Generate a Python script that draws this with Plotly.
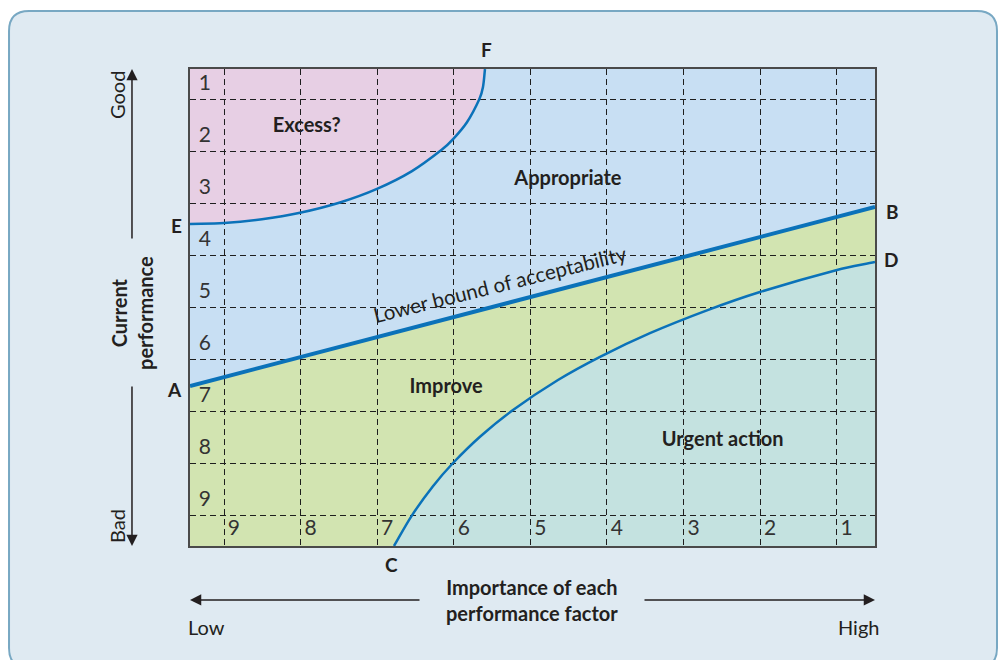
import math
import plotly.graph_objects as go

# ---------------- data (grid units: x = importance gridline index, y = performance gridline index) -------------
importance_grid = [1, 2, 3, 4, 5, 6, 7, 8, 9]
importance_labels = ["9", "8", "7", "6", "5", "4", "3", "2", "1"]
performance_grid = [1, 2, 3, 4, 5, 6, 7, 8, 9]
performance_labels = ["1", "2", "3", "4", "5", "6", "7", "8", "9"]

# Curve E-F (boundary of "Excess?")
ef_x = [0.556, 1.000, 1.496, 1.992, 2.514, 2.997, 3.454, 3.842, 3.994, 4.172, 4.333, 4.381, 4.407]
ef_y = [3.404, 3.385, 3.313, 3.188, 2.990, 2.729, 2.387, 1.977, 1.767, 1.448, 1.006, 0.769, 0.423]

# Lower bound of acceptability A-B
ab_x = [0.556, 9.499]
ab_y = [6.519, 3.077]

# Curve C-D (boundary of "Urgent action")
cd_x = [3.219, 3.454, 3.728, 3.990, 4.342, 4.773, 5.360, 5.909, 6.561, 7.305, 7.997, 9.003, 9.499]
cd_y = [9.596, 9.006, 8.446, 8.000, 7.494, 6.981, 6.404, 5.958, 5.504, 5.065, 4.712, 4.288, 4.135]

region_names = ["<b>Excess?</b>", "<b>Appropriate</b>", "<b>Improve</b>", "<b>Urgent action</b>"]
region_x = [2.08, 5.49, 3.90, 7.51]
region_y = [1.54, 2.56, 6.56, 7.58]

XMIN, XMAX = 0.556, 9.499
YTOP, YBOT = 0.423, 9.596
PX_X, PX_Y = 76.6, 52.0   # pixels per grid unit (for smooth-curve parametrisation)

C_EXCESS = "#e7cfe4"
C_APPROP = "#c8dff3"
C_IMPROVE = "#d2e4b1"
C_URGENT = "#c4e2e0"
C_LINE = "#0b72b9"
C_TEXT = "#231f20"
FONT = "Lato"


def smooth_segments(xs, ys):
    """Chord-length Catmull-Rom through the points, as SVG cubic segments (after the first point)."""
    n = len(xs)
    t = [0.0]
    for i in range(1, n):
        t.append(t[-1] + math.hypot((xs[i] - xs[i - 1]) * PX_X, (ys[i] - ys[i - 1]) * PX_Y))
    mx, my = [], []
    for i in range(n):
        a, b = max(i - 1, 0), min(i + 1, n - 1)
        mx.append((xs[b] - xs[a]) / (t[b] - t[a]))
        my.append((ys[b] - ys[a]) / (t[b] - t[a]))
    segs = []
    for i in range(n - 1):
        h = (t[i + 1] - t[i]) / 3.0
        segs.append("C %.4f,%.4f %.4f,%.4f %.4f,%.4f" % (
            xs[i] + mx[i] * h, ys[i] + my[i] * h,
            xs[i + 1] - mx[i + 1] * h, ys[i + 1] - my[i + 1] * h,
            xs[i + 1], ys[i + 1]))
    return " ".join(segs)


ef_curve = smooth_segments(ef_x, ef_y)
cd_curve = smooth_segments(cd_x, cd_y)
dc_curve = smooth_segments(cd_x[::-1], cd_y[::-1])

p = lambda x, y: "%s,%s" % (x, y)
excess_path = f"M {p(XMIN, YTOP)} L {p(ef_x[0], ef_y[0])} {ef_curve} Z"
approp_path = (f"M {p(ef_x[0], ef_y[0])} {ef_curve} L {p(XMAX, YTOP)} L {p(ab_x[1], ab_y[1])} "
               f"L {p(ab_x[0], ab_y[0])} Z")
improve_path = (f"M {p(ab_x[0], ab_y[0])} L {p(ab_x[1], ab_y[1])} L {p(cd_x[-1], cd_y[-1])} {dc_curve} "
                f"L {p(XMIN, YBOT)} Z")
urgent_path = f"M {p(cd_x[0], cd_y[0])} {cd_curve} L {p(XMAX, YBOT)} Z"

fig = go.Figure()

shapes = []
# background rounded panel (paper coords)
L, R, T, B = -0.2642, 1.1781, 1.1216, -0.2558
rx, ry = 0.0292, 0.0419
panel = (f"M {L+rx},{T} L {R-rx},{T} Q {R},{T} {R},{T-ry} L {R},{B+ry} Q {R},{B} {R-rx},{B} "
         f"L {L+rx},{B} Q {L},{B} {L},{B+ry} L {L},{T-ry} Q {L},{T} {L+rx},{T} Z")
shapes.append(dict(type="path", xref="paper", yref="paper", path=panel, fillcolor="#dfeaf2",
                   line=dict(color="#78a8c3", width=2), layer="below"))
for pth, col in [(excess_path, C_EXCESS), (approp_path, C_APPROP),
                 (improve_path, C_IMPROVE), (urgent_path, C_URGENT)]:
    shapes.append(dict(type="path", xref="x", yref="y", path=pth, fillcolor=col,
                       line=dict(width=0), layer="below"))
# boundary curves
for xs, ys, cur in [(ef_x, ef_y, ef_curve), (cd_x, cd_y, cd_curve)]:
    shapes.append(dict(type="path", xref="x", yref="y", path=f"M {p(xs[0], ys[0])} {cur}",
                       fillcolor="rgba(0,0,0,0)", line=dict(color=C_LINE, width=2.5), layer="above"))

fig.add_trace(go.Scatter(x=ab_x, y=ab_y, mode="lines", line=dict(color=C_LINE, width=4),
                         hoverinfo="skip", showlegend=False))

# number labels
fig.add_trace(go.Scatter(x=[0.75] * len(performance_grid), y=[v - 0.27 for v in performance_grid],
                         mode="text", text=performance_labels,
                         textfont=dict(family=FONT, size=21, color="#333333"),
                         hoverinfo="skip", showlegend=False))
fig.add_trace(go.Scatter(x=[g + 0.05 for g in importance_grid], y=[9.29] * len(importance_grid),
                         mode="text", text=importance_labels, textposition="middle right",
                         textfont=dict(family=FONT, size=21, color="#333333"),
                         hoverinfo="skip", showlegend=False))
# region labels
fig.add_trace(go.Scatter(x=region_x, y=region_y, mode="text", text=region_names,
                         textfont=dict(family=FONT, size=20, color=C_TEXT),
                         hoverinfo="skip", showlegend=False))

ann = []
ann.append(dict(x=4.60, y=4.56, xref="x", yref="y", text="Lower bound of acceptability", textangle=-14,
                showarrow=False, font=dict(family=FONT, size=20.5, color=C_TEXT)))
# point letters
letter_font = dict(family=FONT, size=19, color=C_TEXT)
for txt, x, y, xs, ys in [("A", ab_x[0], ab_y[0], -16, -4), ("B", ab_x[1], ab_y[1], 17, -4),
                          ("C", cd_x[0], cd_y[0], -2, -18), ("D", cd_x[-1], cd_y[-1], 16, 3),
                          ("E", ef_x[0], ef_y[0], -14, -1), ("F", ef_x[-1], ef_y[-1], 2, 20)]:
    ann.append(dict(x=x, y=y, xref="x", yref="y", text="<b>%s</b>" % txt, showarrow=False,
                    xshift=xs, yshift=ys, font=letter_font))

# axis arrows (head in paper coords, tail offset in pixels)
for hx, hy, ax, ay in [(-0.0847, 1.0, 0, 171), (-0.0847, 0.0, 0, -161),
                       (0.0, -0.1132, 231, 0), (1.0, -0.1132, -232, 0)]:
    ann.append(dict(x=hx, y=hy, ax=ax, ay=ay, xref="paper", yref="paper", axref="pixel", ayref="pixel",
                    text="", showarrow=True, arrowhead=2, arrowsize=1.5, arrowwidth=1.5,
                    arrowcolor=C_TEXT, standoff=0))

txt_font = dict(family=FONT, size=20, color=C_TEXT)
for text, x, y, ang in [("Good", -0.1066, 0.9455, -90), ("Bad", -0.1066, 0.0419, -90),
                        ("<b>Current<br>performance</b>", -0.0847, 0.4885, -90),
                        ("<b>Importance of each<br>performance factor</b>", 0.4993, -0.1132, 0),
                        ("Low", 0.0248, -0.1698, 0), ("High", 0.9766, -0.1698, 0)]:
    ann.append(dict(x=x, y=y, xref="paper", yref="paper", text=text, textangle=ang,
                    xanchor="center", yanchor="middle", showarrow=False, font=txt_font))

axis_common = dict(tick0=1, dtick=1, showgrid=True, griddash="6px,4px", gridcolor="#1e1e1e", gridwidth=1,
                   showticklabels=False, ticks="", zeroline=False, showline=True, mirror=True,
                   linecolor="#4a4a4a", linewidth=1.5, fixedrange=True)

fig.update_layout(
    width=999, height=660,
    margin=dict(l=190, r=124, t=69, b=114),
    paper_bgcolor="white", plot_bgcolor="rgba(0,0,0,0)",
    xaxis=dict(range=[XMIN, XMAX], **axis_common),
    yaxis=dict(range=[YBOT, YTOP], **axis_common),
    shapes=shapes, annotations=ann, showlegend=False,
)

fig.write_html("out.html", config={"displayModeBar": False},
               post_script="document.body.style.margin='0';document.body.style.overflow='hidden';")
